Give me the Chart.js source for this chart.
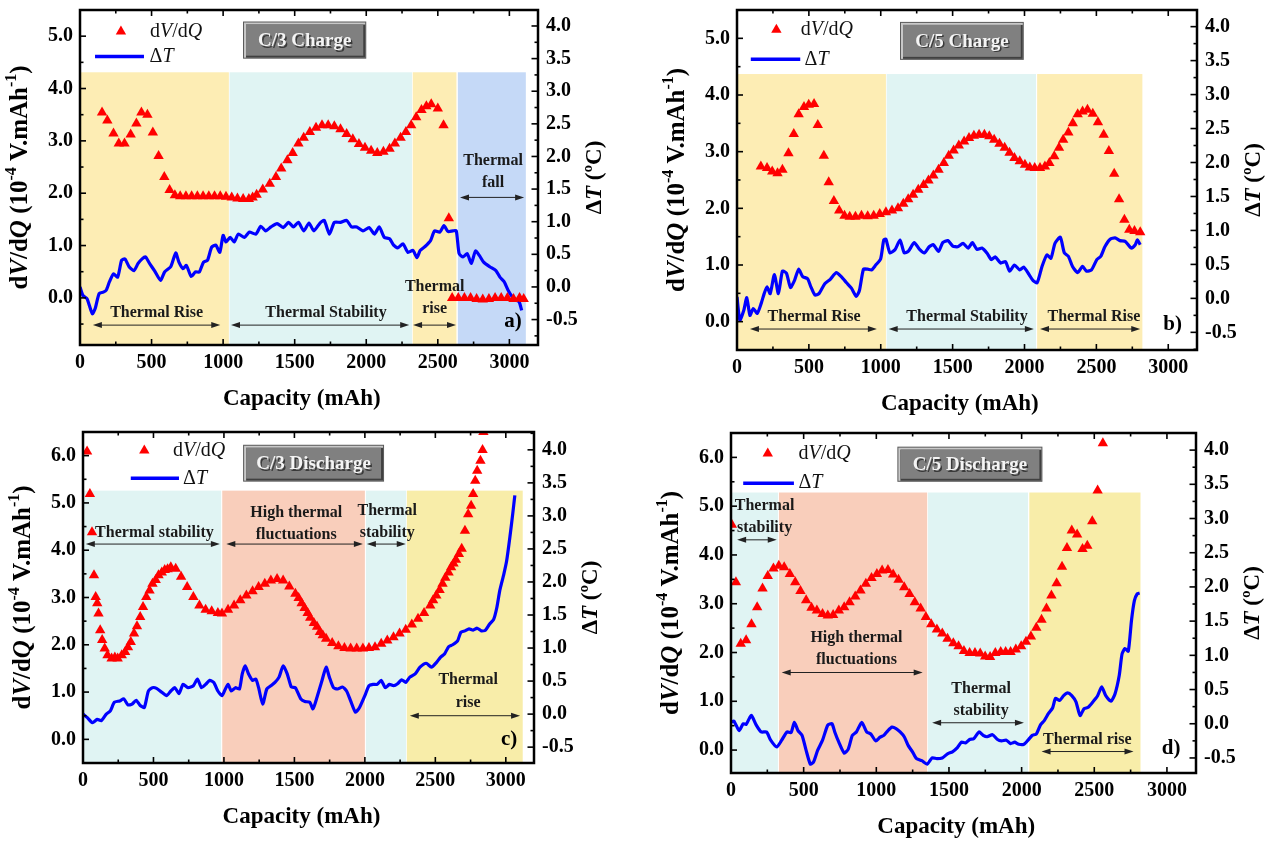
<!DOCTYPE html>
<html>
<head>
<meta charset="utf-8">
<title>dV/dQ and ΔT vs capacity</title>
<script src="https://cdn.jsdelivr.net/npm/chart.js@4.4.1/dist/chart.umd.min.js"></script>
<style>
  html, body { margin: 0; padding: 0; background: #fff; }
  #page { position: relative; width: 1277px; height: 841px; overflow: hidden; }
  canvas { position: absolute; }
</style>
</head>
<body>
<div id="page">
  <canvas id="panelA" width="640" height="420" style="left:0;top:0"></canvas>
  <canvas id="panelB" width="637" height="420" style="left:640px;top:0"></canvas>
  <canvas id="panelC" width="640" height="421" style="left:0;top:420px"></canvas>
  <canvas id="panelD" width="637" height="421" style="left:640px;top:420px"></canvas>
</div>
<script>
// ---- ticks ----
const xTicks = [0, 500, 1000, 1500, 2000, 2500, 3000];
const leftTicksCharge = [0, 1, 2, 3, 4, 5];
const leftTicksDischarge = [0, 1, 2, 3, 4, 5, 6];
const rightTicks = [-0.5, 0, 0.5, 1, 1.5, 2, 2.5, 3, 3.5, 4];

// ---- a) C/3 charge ----
const capA_dvdq = [154,191,234,271,311,354,394,429,471,509,549,589,626,663,700,740,780,820,860,900,
  940,980,1020,1060,1100,1140,1180,1206,1234,1277,1326,1369,1406,1449,1486,1526,1563,1606,1649,1691,
  1734,1777,1820,1863,1906,1949,1991,2034,2077,2120,2163,2200,2240,2277,2314,2349,2386,2420,2454,2500,
  2540,2577,2600,2643,2686,2729,2771,2814,2857,2900,2943,2986,3029,3071,3100];
const dvdqA = [3.54,3.39,3.14,2.95,2.95,3.12,3.33,3.54,3.50,3.16,2.71,2.31,2.06,1.96,1.94,1.94,1.94,1.94,1.94,1.94,
  1.94,1.94,1.93,1.92,1.90,1.89,1.89,1.92,1.97,2.07,2.18,2.31,2.47,2.63,2.77,2.95,3.06,3.17,3.25,3.30,
  3.30,3.28,3.22,3.13,3.03,2.94,2.87,2.81,2.77,2.79,2.85,2.95,3.06,3.17,3.30,3.45,3.59,3.66,3.70,3.62,
  3.30,1.52,0,0,0,0,-0.02,-0.03,-0.02,0,0,0,-0.02,0,-0.02];
const capA_dT = [0,20,49,86,106,134,163,183,206,234,263,291,314,343,377,406,434,457,486,520,
  563,591,634,669,691,720,743,777,806,834,863,891,920,949,977,1000,1020,1049,1077,1106,
  1149,1183,1229,1263,1297,1334,1377,1420,1457,1491,1526,1563,1600,1634,1677,1706,1743,1777,1820,1863,
  1897,1934,1977,2020,2057,2091,2126,2163,2191,2220,2257,2291,2326,2354,2377,2411,2449,2477,2514,2543,
  2571,2606,2629,2649,2677,2706,2734,2763,2791,2820,2863,2906,2934,2963,2991,3020,3049,3069,3086];
const dTA = [0.0,-0.13,-0.18,-0.41,-0.33,-0.10,-0.08,-0.05,0.08,0.20,0.15,0.41,0.43,0.31,0.25,0.36,0.43,0.46,0.36,0.25,
  0.10,0.23,0.31,0.52,0.38,0.28,0.33,0.16,0.23,0.23,0.38,0.41,0.61,0.64,0.53,0.79,0.69,0.76,0.69,0.81,
  0.76,0.84,0.81,0.93,0.86,0.92,0.97,0.91,0.99,0.92,0.99,0.86,0.98,0.86,0.98,1.02,0.81,0.99,0.99,1.02,
  0.92,0.92,0.86,0.91,0.81,0.92,0.76,0.74,0.64,0.60,0.66,0.53,0.56,0.45,0.56,0.62,0.71,0.86,0.84,0.94,
  0.85,0.86,0.86,0.51,0.46,0.51,0.36,0.55,0.48,0.38,0.31,0.25,0.15,0.08,-0.05,-0.15,-0.20,-0.23,-0.36];

// ---- b) C/5 charge ----
const capB_dvdq = [166,209,245,282,316,358,395,429,466,499,536,562,604,638,674,711,748,784,824,866,
  909,951,993,1036,1078,1120,1157,1191,1225,1261,1298,1332,1366,1402,1439,1473,1507,1543,1580,1614,
  1648,1684,1721,1755,1789,1826,1862,1896,1930,1967,2003,2037,2071,2108,2142,2173,2207,2240,2269,2305,
  2336,2370,2404,2438,2475,2511,2551,2587,2624,2658,2695,2729,2765,2805];
const dvdqB = [2.74,2.71,2.65,2.62,2.68,2.97,3.31,3.66,3.79,3.83,3.84,3.47,2.93,2.46,2.13,1.96,1.87,1.85,1.85,1.87,
  1.86,1.87,1.90,1.93,1.96,2.00,2.08,2.16,2.24,2.33,2.41,2.49,2.58,2.68,2.80,2.93,3.02,3.11,3.18,3.24,
  3.28,3.30,3.30,3.27,3.21,3.14,3.07,2.98,2.89,2.83,2.77,2.72,2.71,2.71,2.74,2.80,2.92,3.07,3.21,3.34,
  3.50,3.66,3.71,3.74,3.67,3.52,3.30,3.01,2.61,2.16,1.80,1.62,1.60,1.58];
const capB_dT = [0,20,48,68,90,113,141,169,189,209,231,260,288,316,344,372,401,429,457,491,
  514,542,570,612,649,691,725,762,796,830,852,880,909,937,965,999,1021,1036,1064,1100,
  1134,1163,1191,1233,1270,1304,1337,1366,1402,1431,1467,1501,1535,1572,1608,1637,1670,1704,1741,1769,
  1797,1834,1868,1896,1930,1967,1995,2032,2060,2088,2122,2156,2184,2212,2249,2277,2305,2334,2370,2404,
  2432,2466,2503,2531,2559,2596,2630,2664,2700,2743,2771,2785,2805];
const dTB = [0.02,-0.32,-0.17,0.01,-0.25,-0.15,-0.22,-0.07,0.07,0.17,0.07,0.35,0.07,0.40,0.37,0.16,0.27,0.43,0.32,0.29,
  0.17,0.05,0.07,0.22,0.28,0.38,0.32,0.23,0.15,0.03,0.12,0.43,0.43,0.42,0.49,0.58,0.86,0.87,0.67,0.72,
  0.86,0.67,0.69,0.82,0.72,0.67,0.76,0.79,0.69,0.82,0.85,0.77,0.76,0.81,0.74,0.82,0.72,0.74,0.66,0.57,
  0.61,0.52,0.54,0.40,0.49,0.42,0.46,0.35,0.26,0.23,0.47,0.64,0.59,0.81,0.90,0.67,0.62,0.47,0.38,0.47,
  0.40,0.42,0.57,0.62,0.76,0.87,0.89,0.85,0.84,0.74,0.79,0.86,0.79];

// ---- c) C/3 discharge ----
const capC_dvdq = [29,49,64,78,90,101,110,122,136,154,174,203,226,246,275,299,319,339,362,383,
  406,426,449,472,493,516,536,559,580,600,623,658,696,739,783,826,870,913,957,986,
  1029,1072,1116,1159,1203,1246,1290,1333,1377,1420,1464,1507,1530,1551,1572,1594,1612,1638,1661,1681,
  1701,1725,1768,1812,1855,1899,1942,1986,2029,2072,2116,2159,2203,2246,2290,2333,2377,2420,2464,2484,
  2507,2530,2551,2571,2594,2612,2629,2646,2667,2687,2710,2733,2754,2768,2783,2797,2820,2835,2841];
const dvdqC = [6.09,5.19,4.38,3.47,3.01,2.88,2.66,2.31,2.10,1.92,1.78,1.71,1.73,1.71,1.78,1.85,1.95,2.06,2.24,2.39,
  2.59,2.80,3.01,3.15,3.29,3.37,3.47,3.53,3.58,3.60,3.64,3.61,3.44,3.22,3.01,2.83,2.74,2.71,2.67,2.66,
  2.74,2.83,2.94,3.04,3.13,3.22,3.29,3.36,3.39,3.36,3.23,3.08,2.99,2.88,2.78,2.67,2.57,2.46,2.38,2.27,
  2.20,2.13,2.04,1.97,1.93,1.92,1.92,1.92,1.93,1.95,2.02,2.09,2.16,2.24,2.32,2.43,2.55,2.67,2.83,2.94,
  3.04,3.16,3.29,3.42,3.53,3.64,3.72,3.80,3.92,4.03,4.41,4.76,4.94,5.19,5.47,5.68,5.89,6.12,6.50];
const capC_dT = [0,29,67,101,130,165,194,223,261,290,319,348,377,406,435,464,493,522,559,594,
  623,652,681,710,745,783,812,841,870,899,928,957,986,1006,1029,1052,1081,1110,1130,1151,
  1174,1203,1226,1246,1275,1304,1333,1362,1391,1420,1449,1478,1507,1545,1574,1609,1632,1661,1696,1725,
  1748,1777,1806,1841,1870,1899,1933,1962,2000,2029,2058,2087,2116,2145,2174,2203,2232,2261,2290,2319,
  2357,2391,2435,2472,2507,2536,2565,2594,2623,2658,2681,2710,2739,2768,2797,2826,2855,2884,2913,2936,
  2957,2986,3006,3029,3049,3064];
const dTC = [0.0,-0.05,-0.13,-0.08,-0.10,0.0,0.05,0.18,0.20,0.23,0.14,0.15,0.21,0.13,0.10,0.35,0.40,0.39,0.33,0.28,
  0.35,0.40,0.31,0.45,0.40,0.43,0.53,0.40,0.45,0.51,0.48,0.35,0.28,0.36,0.45,0.35,0.40,0.38,0.61,0.73,
  0.61,0.51,0.53,0.40,0.15,0.38,0.43,0.48,0.56,0.73,0.61,0.41,0.40,0.23,0.19,0.18,0.08,0.26,0.51,0.71,
  0.56,0.40,0.38,0.41,0.35,0.20,0.03,0.10,0.28,0.43,0.45,0.45,0.51,0.40,0.45,0.43,0.46,0.52,0.48,0.56,
  0.61,0.71,0.77,0.71,0.78,0.86,0.91,1.02,1.05,1.11,1.24,1.26,1.29,1.27,1.30,1.26,1.27,1.36,1.43,1.61,
  1.87,2.12,2.32,2.68,3.03,3.31];

// ---- d) C/5 discharge ----
const capD_dvdq = [6,34,67,104,141,180,217,253,292,329,366,405,442,478,517,554,591,630,666,703,
  742,779,816,855,891,928,967,1004,1040,1080,1116,1153,1192,1229,1265,1305,1341,1378,1417,1454,
  1490,1530,1566,1603,1642,1679,1715,1749,1783,1819,1856,1890,1924,1960,1997,2030,2064,2101,2137,2171,
  2205,2241,2278,2312,2345,2382,2419,2452,2486,2523,2559];
const dvdqD = [4.62,3.44,2.18,2.25,2.58,2.93,3.31,3.57,3.72,3.78,3.75,3.61,3.44,3.26,3.07,2.92,2.86,2.79,2.76,2.77,
  2.86,2.93,3.03,3.15,3.27,3.41,3.53,3.61,3.68,3.69,3.60,3.49,3.34,3.20,3.03,2.90,2.73,2.58,2.47,2.39,
  2.28,2.19,2.13,2.03,1.99,1.99,1.98,1.92,1.91,1.99,2.01,2.01,2.01,2.06,2.13,2.22,2.33,2.51,2.67,2.90,
  3.17,3.42,3.76,4.14,4.50,4.42,4.12,4.19,4.69,5.32,6.29];
const capD_dT = [0,20,56,84,104,124,141,174,208,245,273,315,349,385,413,436,461,489,517,546,
  568,596,630,666,695,714,742,779,807,835,863,900,934,962,996,1024,1052,1080,1108,1136,
  1164,1192,1220,1249,1277,1313,1350,1384,1417,1454,1490,1524,1558,1586,1614,1642,1670,1707,1735,1763,
  1800,1834,1862,1895,1924,1952,1980,2016,2044,2073,2101,2129,2157,2185,2213,2233,2261,2289,2317,2345,
  2374,2402,2430,2458,2494,2523,2551,2579,2615,2643,2672,2691,2711,2734,2756,2776,2796,2812];
const dTD = [0.02,0.04,-0.10,0.0,-0.01,0.07,0.12,-0.02,-0.12,-0.12,-0.24,-0.34,-0.24,-0.12,-0.13,0.02,-0.10,-0.17,-0.39,-0.59,
  -0.56,-0.39,-0.24,-0.02,0.0,-0.12,-0.27,-0.43,-0.37,-0.17,-0.12,0.02,-0.12,-0.15,-0.25,-0.20,-0.17,-0.10,-0.05,-0.07,
  -0.12,-0.19,-0.32,-0.41,-0.51,-0.54,-0.59,-0.50,-0.51,-0.50,-0.44,-0.41,-0.35,-0.27,-0.28,-0.23,-0.22,-0.12,-0.17,-0.19,
  -0.16,-0.23,-0.25,-0.24,-0.29,-0.27,-0.30,-0.30,-0.24,-0.17,-0.15,-0.02,0.05,0.15,0.23,0.37,0.34,0.41,0.45,0.41,
  0.32,0.12,0.22,0.24,0.33,0.41,0.54,0.41,0.33,0.44,0.71,1.02,1.10,1.06,1.51,1.80,1.90,1.91];

// ---- styling / layout ----
const FONT = '"Liberation Serif", "Times New Roman", serif';
Chart.defaults.font.family = FONT;

const FILL = {
  yellow: '#fdedb4',
  lemon: '#f8eda9',
  cyan: '#e0f4f3',
  blue: '#c5d9f7',
  salmon: '#f9cebb'
};

// positions in data units (x: mAh, y: left axis) for the overlay text
const panels = [
  {
    id: 'panelA', title: 'C/3 Charge', letter: ['a)', 3025, -0.46],
    cap: capA_dvdq, dvdq: dvdqA, capT: capA_dT, dT: dTA, yTicks: leftTicksCharge,
    plot: { left: 80, right: 538, top: 10, bottom: 345 },
    yRange: [-0.9, 5.5], y2Range: [-0.89, 4.245],
    regionTop: 4.31,
    regions: [[0, 1040, 'yellow'], [1045, 2320, 'cyan'], [2325, 2630, 'yellow'], [2640, 3115, 'blue']],
    legend: { marker: [286, 5.09], text: [489, 5.09], line: [105, 447, 4.61], text2: [486, 4.61] },
    box: [1139, 2000, 5.28, 4.57],
    notes: [['Thermal Rise', 535, -0.29], ['Thermal Stability', 1719, -0.29], ['Thermal', 2478, 0.22],
            ['rise', 2478, -0.2], ['Thermal', 2886, 2.61], ['fall', 2886, 2.19]],
    arrows: [[90, 980, -0.52], [1055, 2300, -0.52], [2327, 2627, -0.52], [2655, 3103, 1.92]]
  },
  {
    id: 'panelB', title: 'C/5 Charge', letter: ['b)', 3030, -0.06],
    cap: capB_dvdq, dvdq: dvdqB, capT: capB_dT, dT: dTB, yTicks: leftTicksCharge,
    plot: { left: 97, right: 557, top: 10, bottom: 350 },
    yRange: [-0.5, 5.5], y2Range: [-0.76, 4.245],
    regionTop: 4.37,
    regions: [[0, 1036, 'yellow'], [1041, 2080, 'cyan'], [2088, 2820, 'yellow']],
    legend: { marker: [274, 5.15], text: [443, 5.15], line: [96, 440, 4.63], text2: [470, 4.63] },
    box: [1134, 1995, 5.29, 4.62],
    notes: [['Thermal Rise', 536, 0.08], ['Thermal Stability', 1600, 0.08], ['Thermal Rise', 2483, 0.08]],
    arrows: [[90, 973, -0.13], [1055, 2065, -0.13], [2108, 2805, -0.13]]
  },
  {
    id: 'panelC', title: 'C/3 Discharge', letter: ['c)', 3023, -0.01],
    cap: capC_dvdq, dvdq: dvdqC, capT: capC_dT, dT: dTC, yTicks: leftTicksDischarge,
    plot: { left: 83, right: 534, top: 12, bottom: 343 },
    yRange: [-0.5, 6.5], y2Range: [-0.74, 4.27],
    regionTop: 5.26,
    regions: [[0, 980, 'cyan'], [988, 2000, 'salmon'], [2008, 2293, 'cyan'], [2298, 3120, 'lemon']],
    legend: { marker: [435, 6.11], text: [638, 6.11], line: [339, 681, 5.52], text2: [710, 5.52] },
    box: [1136, 2136, 6.23, 5.45],
    notes: [['Thermal stability', 507, 4.36], ['High thermal', 1513, 4.80], ['fluctuations', 1513, 4.32],
            ['Thermal', 2159, 4.83], ['stability', 2159, 4.36], ['Thermal', 2733, 1.25], ['rise', 2733, 0.77]],
    arrows: [[20, 971, 4.13], [1017, 1986, 4.13], [2014, 2290, 4.13], [2319, 3101, 0.50]]
  },
  {
    id: 'panelD', title: 'C/5 Discharge', letter: ['d)', 3029, 0.03],
    cap: capD_dvdq, dvdq: dvdqD, capT: capD_dT, dT: dTD, yTicks: leftTicksDischarge,
    plot: { left: 91, right: 556, top: 13, bottom: 353 },
    yRange: [-0.47, 6.5], y2Range: [-0.72, 4.25],
    regionTop: 5.28,
    regions: [[0, 323, 'cyan'], [330, 1350, 'salmon'], [1356, 2044, 'cyan'], [2053, 2818, 'lemon']],
    legend: { marker: [253, 6.08], text: [464, 6.08], line: [84, 433, 5.47], text2: [464, 5.47] },
    box: [1145, 2143, 6.22, 5.50],
    notes: [['Thermal', 231, 5.01], ['stability', 231, 4.55], ['High thermal', 863, 2.30], ['fluctuations', 863, 1.84],
            ['Thermal', 1721, 1.26], ['stability', 1721, 0.80], ['Thermal rise', 2452, 0.20]],
    arrows: [[42, 315, 4.31], [349, 1319, 1.59], [1384, 2016, 0.56], [2137, 2770, -0.03]]
  }
];

function pts(xs, ys) {
  return xs.map((x, i) => ({ x: x, y: ys[i] }));
}

// text made of runs: [text, flags] where b = bold, i = italic, s = superscript
function richText(ctx, runs, x, y, size, align) {
  const fontOf = f => (f.includes('i') ? 'italic ' : '') + (f.includes('b') ? 'bold ' : '') +
    (f.includes('s') ? Math.round(size * 0.62) : size) + 'px ' + FONT;
  let w = 0;
  runs.forEach(([t, f]) => { ctx.font = fontOf(f); w += ctx.measureText(t).width; });
  let cx = align === 'center' ? x - w / 2 : x;
  ctx.textAlign = 'left';
  ctx.textBaseline = 'middle';
  runs.forEach(([t, f]) => {
    ctx.font = fontOf(f);
    ctx.fillText(t, cx, f.includes('s') ? y - size * 0.36 : y);
    cx += ctx.measureText(t).width;
  });
}

function drawArrow(ctx, x0, x1, y) {
  ctx.strokeStyle = '#222';
  ctx.fillStyle = '#222';
  ctx.lineWidth = 1;
  ctx.beginPath();
  ctx.moveTo(x0 + 5, y);
  ctx.lineTo(x1 - 5, y);
  ctx.stroke();
  ctx.beginPath();
  ctx.moveTo(x0, y); ctx.lineTo(x0 + 9, y - 3); ctx.lineTo(x0 + 9, y + 3); ctx.closePath();
  ctx.fill();
  ctx.beginPath();
  ctx.moveTo(x1, y); ctx.lineTo(x1 - 9, y - 3); ctx.lineTo(x1 - 9, y + 3); ctx.closePath();
  ctx.fill();
}

function drawTitleBox(ctx, x0, y0, x1, y1, text) {
  const w = x1 - x0, h = y1 - y0;
  ctx.fillStyle = '#5a5a5a';
  ctx.fillRect(x0, y0, w, h);
  ctx.fillStyle = '#c8c8c8';
  ctx.fillRect(x0 + 1, y0 + 1, w - 2, h - 2);
  ctx.fillStyle = '#404040';
  ctx.fillRect(x0 + 3, y0 + 3, w - 4, h - 4);
  ctx.fillStyle = '#808080';
  ctx.fillRect(x0 + 3, y0 + 3, w - 6, h - 6);
  ctx.font = 'bold 19px ' + FONT;
  ctx.textAlign = 'center';
  ctx.textBaseline = 'middle';
  ctx.fillStyle = '#3a3a3a';
  ctx.fillText(text, (x0 + x1) / 2 + 1.5, (y0 + y1) / 2 + 2.5);
  ctx.fillStyle = '#f4f4f4';
  ctx.fillText(text, (x0 + x1) / 2, (y0 + y1) / 2 + 1);
}

function triangle(ctx, x, y, r) {
  ctx.beginPath();
  for (let k = 0; k < 3; k++) {
    const a = k * 2 * Math.PI / 3;
    const px = x + Math.sin(a) * r, py = y - Math.cos(a) * r;
    if (k === 0) ctx.moveTo(px, py); else ctx.lineTo(px, py);
  }
  ctx.closePath();
  ctx.fill();
}

function decor(P) {
  return {
    id: 'decor',
    beforeDatasetsDraw(chart) {
      const { ctx, chartArea: a, scales } = chart;
      const X = v => scales.x.getPixelForValue(v);
      const top = scales.y.getPixelForValue(P.regionTop);
      ctx.save();
      P.regions.forEach(([s, e, c]) => {
        ctx.fillStyle = FILL[c];
        ctx.fillRect(X(s), top, X(e) - X(s), a.bottom - top);
      });
      ctx.restore();
    },
    afterDatasetsDraw(chart) {
      const { ctx, chartArea: a, scales } = chart;
      const X = v => scales.x.getPixelForValue(v);
      const Y = v => scales.y.getPixelForValue(v);
      const Y2 = v => scales.y2.getPixelForValue(v);
      const seg = (x0, y0, x1, y1) => { ctx.beginPath(); ctx.moveTo(x0, y0); ctx.lineTo(x1, y1); ctx.stroke(); };
      ctx.save();

      // inward ticks on all four sides
      ctx.strokeStyle = '#000';
      ctx.lineWidth = 1.6;
      for (let i = 0; i * 250 <= 3200; i++) {
        const px = X(i * 250), len = i % 2 ? 3.5 : 6;
        seg(px, a.bottom, px, a.bottom - len);
        seg(px, a.top, px, a.top + len);
      }
      for (let i = Math.ceil(P.yRange[0] * 2); i / 2 <= P.yRange[1]; i++) {
        const py = Y(i / 2), len = i % 2 ? 3.5 : 6;
        seg(a.left, py, a.left + len, py);
      }
      for (let i = Math.ceil(P.y2Range[0] * 4); i / 4 <= P.y2Range[1]; i++) {
        const py = Y2(i / 4), len = i % 2 ? 3.5 : 6.5;
        seg(a.right, py, a.right - len, py);
      }
      ctx.lineWidth = 2.5;
      ctx.strokeRect(a.left, a.top, a.right - a.left, a.bottom - a.top);

      // region notes and arrows
      ctx.fillStyle = '#1a1a1a';
      ctx.font = 'bold 16px ' + FONT;
      ctx.textAlign = 'center';
      ctx.textBaseline = 'middle';
      P.notes.forEach(([t, x, y]) => ctx.fillText(t, X(x), Y(y)));
      P.arrows.forEach(([x0, x1, y]) => drawArrow(ctx, X(x0), X(x1), Y(y)));

      // panel letter
      ctx.fillStyle = '#000';
      ctx.font = 'bold 21px ' + FONT;
      ctx.textAlign = 'center';
      ctx.fillText(P.letter[0], X(P.letter[1]), Y(P.letter[2]));

      // legend
      const L = P.legend;
      ctx.fillStyle = '#ff0000';
      triangle(ctx, X(L.marker[0]), Y(L.marker[1]), 6);
      ctx.strokeStyle = '#0000ff';
      ctx.lineWidth = 3.5;
      seg(X(L.line[0]), Y(L.line[2]), X(L.line[1]), Y(L.line[2]));
      ctx.fillStyle = '#111';
      richText(ctx, [['d', ''], ['V', 'i'], ['/d', ''], ['Q', 'i']], X(L.text[0]), Y(L.text[1]), 20, 'left');
      richText(ctx, [['\u0394', ''], ['T', 'i']], X(L.text2[0]), Y(L.text2[1]), 20, 'left');

      // title box
      drawTitleBox(ctx, X(P.box[0]), Y(P.box[2]), X(P.box[1]), Y(P.box[3]), P.title);

      // axis titles
      ctx.fillStyle = '#000';
      richText(ctx, [['Capacity (mAh)', 'b']], X(1550), a.bottom + 54, 23, 'center');
      const cy = (a.top + a.bottom) / 2;
      ctx.save();
      ctx.translate(a.left - 59, cy);
      ctx.rotate(-Math.PI / 2);
      richText(ctx, [['d', 'b'], ['V', 'bi'], ['/d', 'b'], ['Q', 'bi'], [' (10', 'b'], ['-4', 'bs'],
        [' V.mAh', 'b'], ['-1', 'bs'], [')', 'b']], 0, 0, 25, 'center');
      ctx.restore();
      ctx.save();
      ctx.translate(a.right + 57, cy);
      ctx.rotate(-Math.PI / 2);
      richText(ctx, [['\u0394', 'b'], ['T', 'bi'], [' (\u00baC)', 'b']], 0, 0, 23, 'center');
      ctx.restore();

      ctx.restore();
    }
  };
}

const tickFont = { family: FONT, size: 20, weight: 'bold' };
const noGrid = { display: false, drawTicks: false, tickLength: 0 };

function zeroPad(s) {
  s.paddingTop = 0; s.paddingBottom = 0; s.paddingLeft = 0; s.paddingRight = 0;
}

function makePanel(P) {
  const canvas = document.getElementById(P.id);
  const W = canvas.width, H = canvas.height;
  return new Chart(canvas, {
    type: 'scatter',
    data: {
      datasets: [
        {
          label: 'dV/dQ',
          data: pts(P.cap, P.dvdq),
          yAxisID: 'y',
          pointStyle: 'triangle',
          pointRadius: 6,
          backgroundColor: '#ff0000',
          borderColor: '#ff0000',
          pointBorderWidth: 0,
          borderWidth: 0,
          order: 1
        },
        {
          label: '\u0394T',
          data: pts(P.capT, P.dT),
          yAxisID: 'y2',
          showLine: true,
          borderColor: '#0000ff',
          backgroundColor: '#0000ff',
          borderWidth: 3.2,
          borderJoinStyle: 'round',
          pointRadius: 0,
          tension: 0.2,
          order: 2
        }
      ]
    },
    options: {
      responsive: false,
      animation: false,
      events: [],
      layout: { padding: { top: P.plot.top, left: 0, right: 0, bottom: 0 } },
      plugins: { legend: { display: false }, tooltip: { enabled: false } },
      scales: {
        x: {
          type: 'linear', min: 0, max: 3200,
          grid: noGrid, border: { display: false },
          ticks: { font: tickFont, color: '#000', padding: 6, maxRotation: 0, callback: v => String(v) },
          afterBuildTicks: s => { s.ticks = xTicks.map(v => ({ value: v })); },
          afterFit: s => { s.height = H - P.plot.bottom; zeroPad(s); }
        },
        y: {
          type: 'linear', position: 'left', min: P.yRange[0], max: P.yRange[1],
          grid: noGrid, border: { display: false },
          ticks: { font: tickFont, color: '#000', padding: 7, callback: v => v.toFixed(1) },
          afterBuildTicks: s => { s.ticks = P.yTicks.map(v => ({ value: v })); },
          afterFit: s => { s.width = P.plot.left; zeroPad(s); }
        },
        y2: {
          type: 'linear', position: 'right', min: P.y2Range[0], max: P.y2Range[1],
          grid: noGrid, border: { display: false },
          ticks: { font: tickFont, color: '#000', padding: 8, callback: v => v.toFixed(1) },
          afterBuildTicks: s => { s.ticks = rightTicks.map(v => ({ value: v })); },
          afterFit: s => { s.width = W - P.plot.right; zeroPad(s); }
        }
      }
    },
    plugins: [decor(P)]
  });
}

panels.forEach(makePanel);
</script>
</body>
</html>
